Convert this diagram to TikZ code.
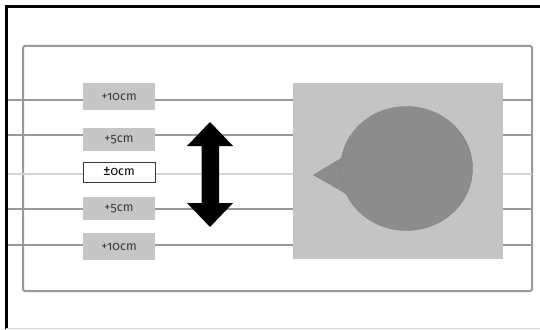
\documentclass[tikz,border=0pt]{standalone}
\usepackage{fontspec}
\usetikzlibrary{shapes.geometric}
\setmainfont{Fira Sans}[Numbers=OldStyle]
\definecolor{labgrey}{HTML}{C6C6C6}
\definecolor{rectgrey}{HTML}{C4C4C4}
\definecolor{blobgrey}{HTML}{8C8C8C}
\definecolor{linegrey}{HTML}{999999}
\definecolor{lightline}{HTML}{D4D4D4}
\definecolor{txtgrey}{HTML}{383838}
\tikzset{
  hline/.style={draw=linegrey, line width=1.5pt},
  lab/.style={fill=labgrey, minimum width=72pt, inner sep=0pt, text=txtgrey, font=\fontsize{12.5}{14}\selectfont},
  zerolab/.style={fill=white, draw=txtgrey, line width=0.9pt, minimum width=72pt, minimum height=20pt, inner sep=0pt, text=black, font=\fontsize{12.5}{14}\selectfont},
}
\begin{document}
\begin{tikzpicture}[x=1pt,y=-1pt]
\useasboundingbox (0,0) rectangle (540,329);
% outer frame
\draw[black, line width=3pt] (6,329) -- (6,7) -- (540,7);
\draw[lightline, line width=0.8pt] (6,328) -- (540,328);
% inner frame
\draw[linegrey, line width=2pt, rounded corners=1.5pt] (23,46) rectangle (532,291);
% horizontal lines
\coordinate (l1) at (8,100); \coordinate (r1) at (532,100);
\coordinate (l2) at (8,135); \coordinate (r2) at (532,135);
\coordinate (l3) at (8,174); \coordinate (r3) at (532,174);
\coordinate (l4) at (8,209); \coordinate (r4) at (532,209);
\coordinate (l5) at (8,245); \coordinate (r5) at (532,245);
\draw[hline] (l1) -- (r1);
\draw[hline] (l2) -- (r2);
\draw[hline, draw=lightline] (l3) -- (r3);
\draw[hline] (l4) -- (r4);
\draw[hline] (l5) -- (r5);
% labels
\node[lab, minimum height=27pt] (p10) at (119,96.5) {+10cm};
\node[lab, minimum height=23pt] (p5) at (119,139.5) {+5cm};
\node[zerolab] (z0) at (119,172) {{\fontsize{15}{15}\selectfont ±}0cm};
\node[lab, minimum height=23pt] (m5) at (119,208.5) {+5cm};
\node[lab, minimum height=27pt] (m10) at (119,246.5) {+10cm};
% arrow
\fill[black] (210,122) -- (233,146) -- (219,146) -- (219,203) -- (233,203) -- (210,227)
  -- (187,203) -- (201.5,203) -- (201.5,146) -- (187,146) -- cycle;
% grey rectangle and blob
\node[fill=rectgrey, minimum width=210pt, minimum height=176pt, inner sep=0pt] (box) at (397.5,171.3) {};
\fill[blobgrey] (313,175) -- (346,155) -- (346,194) -- cycle;
\node[ellipse, fill=blobgrey, draw=blobgrey!92!black, line width=0.4pt, minimum width=132pt, minimum height=124pt, inner sep=0pt] (blob) at (406.5,168.5) {};
\end{tikzpicture}
\end{document}
